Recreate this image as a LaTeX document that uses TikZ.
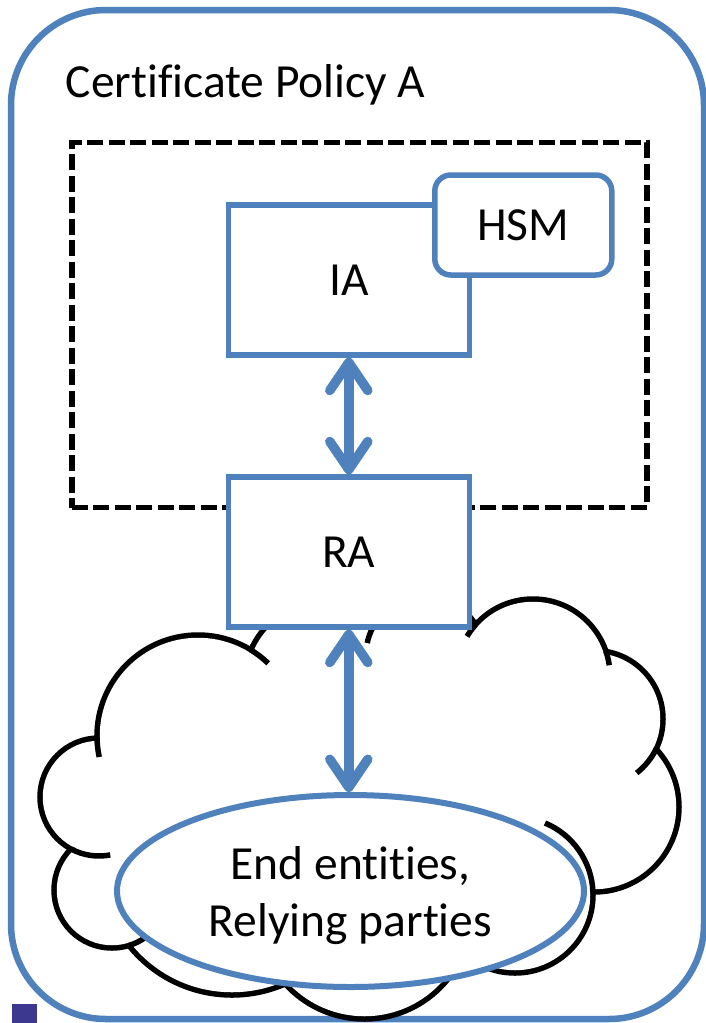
\documentclass[tikz,border=0pt]{standalone}
\usepackage{fontspec}
\setmainfont{Carlito}[Ligatures=NoCommon]
\usetikzlibrary{arrows.meta,shapes.geometric}
\definecolor{officeblue}{HTML}{4F81BD}
\definecolor{markerblue}{HTML}{3C3890}

\tikzset{
  every node/.style={font=\fontsize{47.5}{57}\selectfont},
  frame/.style={draw=officeblue, line width=6.5pt, rounded corners=95pt},
  caboundary/.style={draw=black, line width=5.5pt, dash pattern=on 16pt off 5.5pt},
  entity/.style={draw=officeblue, line width=5.5pt, fill=white,
    minimum width=241pt, minimum height=150pt, inner sep=0pt},
  hsmbox/.style={entity, rounded corners=16pt, minimum width=177pt, minimum height=100pt},
  population/.style={ellipse, draw=officeblue, line width=6pt, fill=white,
    minimum width=467pt, minimum height=192pt, inner sep=0pt, align=center},
  link/.style={draw=officeblue, line width=9.5pt,
    {Straight Barb[length=28pt,width=38pt,round]}-{Straight Barb[length=28pt,width=38pt,round]}},
  lobe/.style={draw=black, line width=11pt},
  stub/.style={draw=black, line width=5.5pt},
}

\begin{document}
\begin{tikzpicture}[x=1pt, y=-1pt]
\fill[white] (0,0) rectangle (706,1023);
\useasboundingbox (0,0) rectangle (706,1023);

% outer policy frame and its title
\node[frame, minimum width=693pt, minimum height=1009pt] (policy) at (357.5,514.5) {};
\node[anchor=base west, inner sep=0pt] (title) at (65.5,97) {Certificate Policy A};

% dashed boundary around the issuing authority
\node[caboundary, minimum width=575pt, minimum height=365pt] (ca) at (359.4,325.2) {};

% cloud: union of lobes (thick strokes, then white fills), then inner stubs
\foreach \cx/\cy/\r in {198/736/98.25, 99/797/56.25, 112/890/55.25, 232/863/129.25,
    364.5/912/104.25, 515/895/75.25, 594/807/82.25, 594.5/719/65.75,
    533/676/74.25, 425/655/56.25, 324.5/681.5/77.25}
  \draw[lobe] (\cx,\cy) circle[radius=\r];
\foreach \cx/\cy/\r in {198/736/98.25, 99/797/56.25, 112/890/55.25, 232/863/129.25,
    364.5/912/104.25, 515/895/75.25, 594/807/82.25, 594.5/719/65.75,
    533/676/74.25, 425/655/56.25, 324.5/681.5/77.25}
  \fill[white] (\cx,\cy) circle[radius=\r];
\fill[white] (198,736) -- (99,797) -- (112,890) -- (232,863) -- (364.5,912)
  -- (515,895) -- (594,807) -- (594.5,719) -- (533,676) -- (425,655)
  -- (324.5,681.5) -- cycle;
\foreach \cx/\cy/\r/\a/\b in {198/736/101/-58.4/-46, 198/736/101/179/168,
    99/797/59/118/79, 112/890/58/73/56, 515/895/78/-2.2/-67.4,
    594.5/719/68.5/25.7/52, 533/676/77/-18.6/-8, 533/676/77/221.8/211,
    425/655/59/215.2/191.7}
  \draw[stub] ([shift={(\a:\r)}]\cx,\cy) arc[start angle=\a, end angle=\b, radius=\r];

% entities
\node[population] (users) at (350.5,891) {\rule{0pt}{42pt}End entities,\\Relying parties};
\node[entity] (ra) at (348.8,552) {RA};
\node[entity] (ia) at (348.8,280) {IA};
\node[hsmbox] (hsm) at (523.3,225) {HSM};

% two-way links
\draw[link] (ia.south) -- (ra.north);
\draw[link] (ra.south) -- (ra.south |- users.north);

% slide marker
\fill[markerblue] (11.7,1004.3) rectangle (37.3,1023);
\end{tikzpicture}
\end{document}
